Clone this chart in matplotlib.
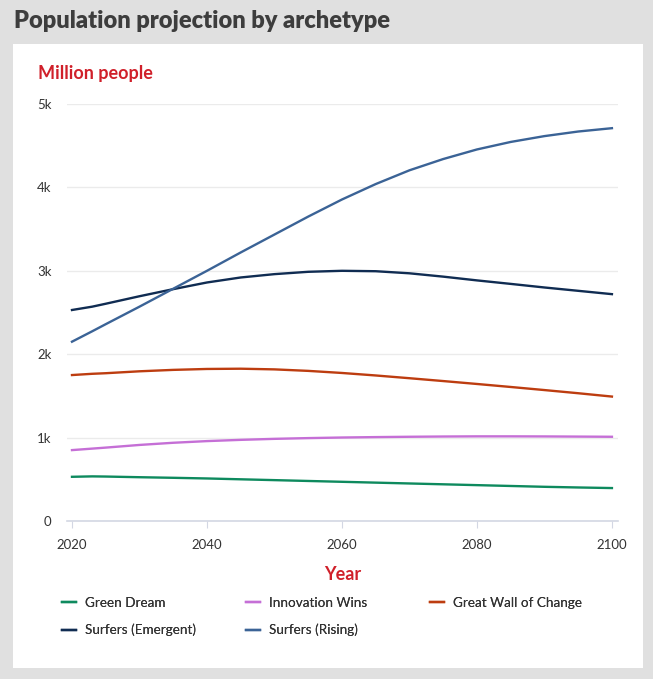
import matplotlib.pyplot as plt
from matplotlib.patches import Rectangle

years = [2020, 2023, 2025, 2030, 2035, 2040, 2045, 2050, 2055, 2060,
         2065, 2070, 2075, 2080, 2085, 2090, 2095, 2100]

green_dream = [530, 535, 533, 525, 518, 510, 500, 490, 480, 470,
               460, 450, 440, 430, 420, 410, 402, 395]
innovation_wins = [850, 868, 880, 912, 938, 958, 973, 985, 994, 1001,
                   1006, 1010, 1013, 1015, 1015, 1014, 1012, 1010]
great_wall = [1750, 1765, 1772, 1795, 1812, 1823, 1826, 1818, 1800, 1775,
              1745, 1712, 1678, 1643, 1607, 1570, 1532, 1492]
surfers_emergent = [2530, 2570, 2605, 2695, 2780, 2860, 2920, 2960, 2988, 3000,
                    2995, 2970, 2930, 2885, 2843, 2800, 2760, 2720]
surfers_rising = [2150, 2275, 2360, 2570, 2785, 3000, 3220, 3435, 3650, 3855,
                  4040, 4205, 4340, 4455, 4545, 4615, 4670, 4710]

series = [
    ("Green Dream", green_dream, "#0e8a5e"),
    ("Innovation Wins", innovation_wins, "#c56fd6"),
    ("Great Wall of Change", great_wall, "#bd3d10"),
    ("Surfers (Emergent)", surfers_emergent, "#102c52"),
    ("Surfers (Rising)", surfers_rising, "#3b6396"),
]

y_ticks = [0, 1000, 2000, 3000, 4000, 5000]
y_labels = ["0", "1k", "2k", "3k", "4k", "5k"]
x_ticks = [2020, 2040, 2060, 2080, 2100]

plt.rcParams["font.family"] = ["Lato", "DejaVu Sans"]

W, H = 653, 679
fig = plt.figure(figsize=(W / 100, H / 100), dpi=100, facecolor="#e0e0e0")

# white card behind the chart
fig.patches.append(Rectangle((13 / W, 1 - 668 / H), 630 / W, 624 / H,
                             transform=fig.transFigure, facecolor="white",
                             edgecolor="none", zorder=0))

fig.text(14 / W, 1 - 21 / H, "Population projection by archetype", fontsize=17,
         fontweight="heavy", color="#3d3d3d", va="center", ha="left")
fig.text(38 / W, 1 - 73 / H, "Million people", fontsize=13, fontweight="bold",
         color="#d0202a", va="center", ha="left")

ax = fig.add_axes([67 / W, 1 - 521 / H, 551 / W, 417 / H])
ax.set_zorder(2)
ax.set_facecolor("none")

lines = []
for name, vals, col in series:
    ln, = ax.plot(years, vals, color=col, lw=1.7, label=name, clip_on=False,
                  solid_joinstyle="round")
    lines.append(ln)

ax.set_xlim(2019.26, 2100.9)
ax.set_ylim(0, 5000)
ax.set_yticks(y_ticks, y_labels)
ax.set_xticks(x_ticks)

for s in ["top", "right", "left"]:
    ax.spines[s].set_visible(False)
ax.spines["bottom"].set_color("#d3d7e3")
ax.spines["bottom"].set_linewidth(1.2)

ax.grid(axis="y", color="#ebebeb", lw=1)
ax.set_axisbelow(True)
ax.tick_params(axis="y", length=0, pad=11, labelsize=9.5, labelcolor="#333333")
ax.tick_params(axis="x", length=5, color="#d3d7e3", pad=8, labelsize=9.5,
               labelcolor="#333333")

ax.set_xlabel("Year", fontsize=13, fontweight="bold", color="#d0202a", labelpad=11)

# three one-column legends so the columns sit at fixed positions
cols = [([0, 3], 62), ([1, 4], 246), ([2], 430)]
for idx, x0 in cols:
    leg = fig.legend([lines[i] for i in idx], [series[i][0] for i in idx],
                     loc="upper left", bbox_to_anchor=(x0 / W, 1 - 597 / H),
                     borderaxespad=0, borderpad=0, ncol=1, frameon=False,
                     fontsize=9.7, handlelength=1.05, handletextpad=0.65,
                     labelspacing=1.1)
    for t in leg.get_texts():
        t.set_color("#333333")
    fig.add_artist(leg)

fig.savefig("out.png", dpi=100, facecolor=fig.get_facecolor())
